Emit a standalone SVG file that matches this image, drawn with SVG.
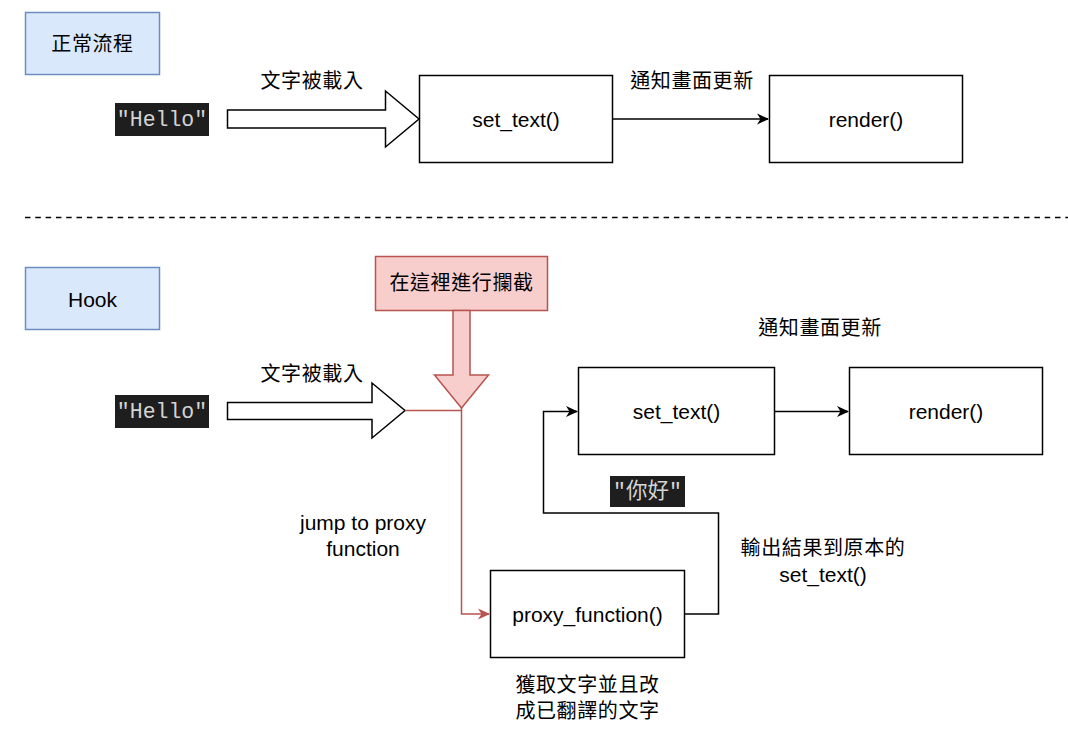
<svg xmlns="http://www.w3.org/2000/svg" width="1068" height="731" viewBox="0 0 1068 731">
<defs>
<style>
.t{font-family:"Liberation Sans",Arial,"Noto Sans CJK TC",sans-serif;font-size:21px;fill:#000;text-anchor:middle;dominant-baseline:central}
.c{font-family:"Liberation Sans","Noto Sans CJK TC",sans-serif;font-size:20px;letter-spacing:0.6px;fill:#000;text-anchor:middle;dominant-baseline:central}
.m{font-family:"Liberation Mono","DejaVu Sans Mono","Noto Sans CJK TC",monospace;font-size:21.5px;fill:#d4d4d4;text-anchor:middle;dominant-baseline:central}
.box{fill:#fff;stroke:#000;stroke-width:1.5}
.blue{fill:#dae8fc;stroke:#6c8ebf;stroke-width:1.5}
.red{fill:#f8cecc;stroke:#b85450;stroke-width:1.5}
.dark{fill:#1e1e1e}
.bl{fill:#fff;stroke:#000;stroke-width:1.5}
.ln{fill:none;stroke:#000;stroke-width:1.5}
.rl{fill:none;stroke:#b85450;stroke-width:1.5}
</style>
<marker id="ah" viewBox="0 0 12 12" refX="11" refY="6" markerWidth="12" markerHeight="12" markerUnits="userSpaceOnUse" orient="auto"><path d="M0,0.5 L12,6 L0,11.5 L3.5,6 Z" fill="#000"/></marker>
<marker id="ahr" viewBox="0 0 12 12" refX="11" refY="6" markerWidth="12" markerHeight="12" markerUnits="userSpaceOnUse" orient="auto"><path d="M0,0.5 L12,6 L0,11.5 L3.5,6 Z" fill="#b85450"/></marker>
</defs>
<rect width="1068" height="731" fill="#fff"/>

<g id="normal-title"><rect class="blue" x="25.5" y="12.5" width="134" height="62"/><text class="c" x="92.5" y="44">正常流程</text></g>
<g id="hello1"><rect class="dark" x="115" y="103" width="94" height="33"/><text class="m" x="162" y="120">"Hello"</text></g>
<g id="load-arrow1"><polygon class="bl" points="227.5,110 385.5,110 385.5,91 419,119 385.5,147 385.5,128 227.5,128"/><text class="c" x="312" y="81">文字被載入</text></g>
<g id="set-text1"><rect class="box" x="419.5" y="75.5" width="193" height="87"/><text class="t" x="516" y="119">set_text()</text></g>
<g id="render1"><rect class="box" x="769.5" y="75.5" width="193" height="87"/><text class="t" x="866" y="119">render()</text></g>

<g id="divider"><line x1="25" y1="217.5" x2="1068" y2="217.5" stroke="#000" stroke-width="1.5" stroke-dasharray="5.5,4.8"/></g>

<g id="hook-title"><rect class="blue" x="25.5" y="267.5" width="134" height="62"/><text class="t" x="92.5" y="299">Hook</text></g>
<g id="intercept"><rect class="red" x="375.5" y="256.5" width="172" height="54"/><text class="c" x="461.5" y="283">在這裡進行攔截</text>
<polygon class="red" points="453,310.5 470,310.5 470,375 488.5,375 461.5,408 434.5,375 453,375"/></g>
<g id="hello2"><rect class="dark" x="115" y="395" width="94" height="33"/><text class="m" x="162" y="412">"Hello"</text></g>
<g id="load-arrow2"><polygon class="bl" points="227.5,402.5 372,402.5 372,383 405,410.5 372,438 372,419.5 227.5,419.5"/><text class="c" x="312" y="374">文字被載入</text></g>
<g id="set-text2"><rect class="box" x="578.5" y="367.5" width="196" height="87"/><text class="t" x="676.5" y="411">set_text()</text></g>
<g id="render2"><rect class="box" x="849.5" y="367.5" width="193" height="87"/><text class="t" x="946" y="411">render()</text></g>
<g id="proxy"><rect class="box" x="490.5" y="570.5" width="194" height="87"/><text class="t" x="587.5" y="614">proxy_function()</text></g>

<g id="connectors">
<line class="ln" x1="612.5" y1="119" x2="768" y2="119" marker-end="url(#ah)"/>
<line class="ln" x1="774.5" y1="411.5" x2="848" y2="411.5" marker-end="url(#ah)"/>
<polyline class="rl" points="405,410.5 461.5,410.5"/>
<polyline class="rl" points="461.5,408 461.5,614 489,614" marker-end="url(#ahr)"/>
<polyline class="ln" points="684.5,614 718.5,614 718.5,513 543.5,513 543.5,411.5 577,411.5" marker-end="url(#ah)"/>
</g>

<g id="labels">
<text class="c" x="692" y="81">通知畫面更新</text>
<text class="c" x="820" y="328">通知畫面更新</text>
<text class="t" x="363" y="522">jump to proxy</text>
<text class="t" x="363" y="548">function</text>
<g id="nihao"><rect class="dark" x="610" y="476" width="75" height="31"/><text class="m" x="647.5" y="491.5">"你好"</text></g>
<text class="c" x="823" y="548">輸出結果到原本的</text>
<text class="t" x="823" y="574">set_text()</text>
<text class="c" x="587.5" y="685">獲取文字並且改</text>
<text class="c" x="587.5" y="711">成已翻譯的文字</text>
</g>
</svg>
